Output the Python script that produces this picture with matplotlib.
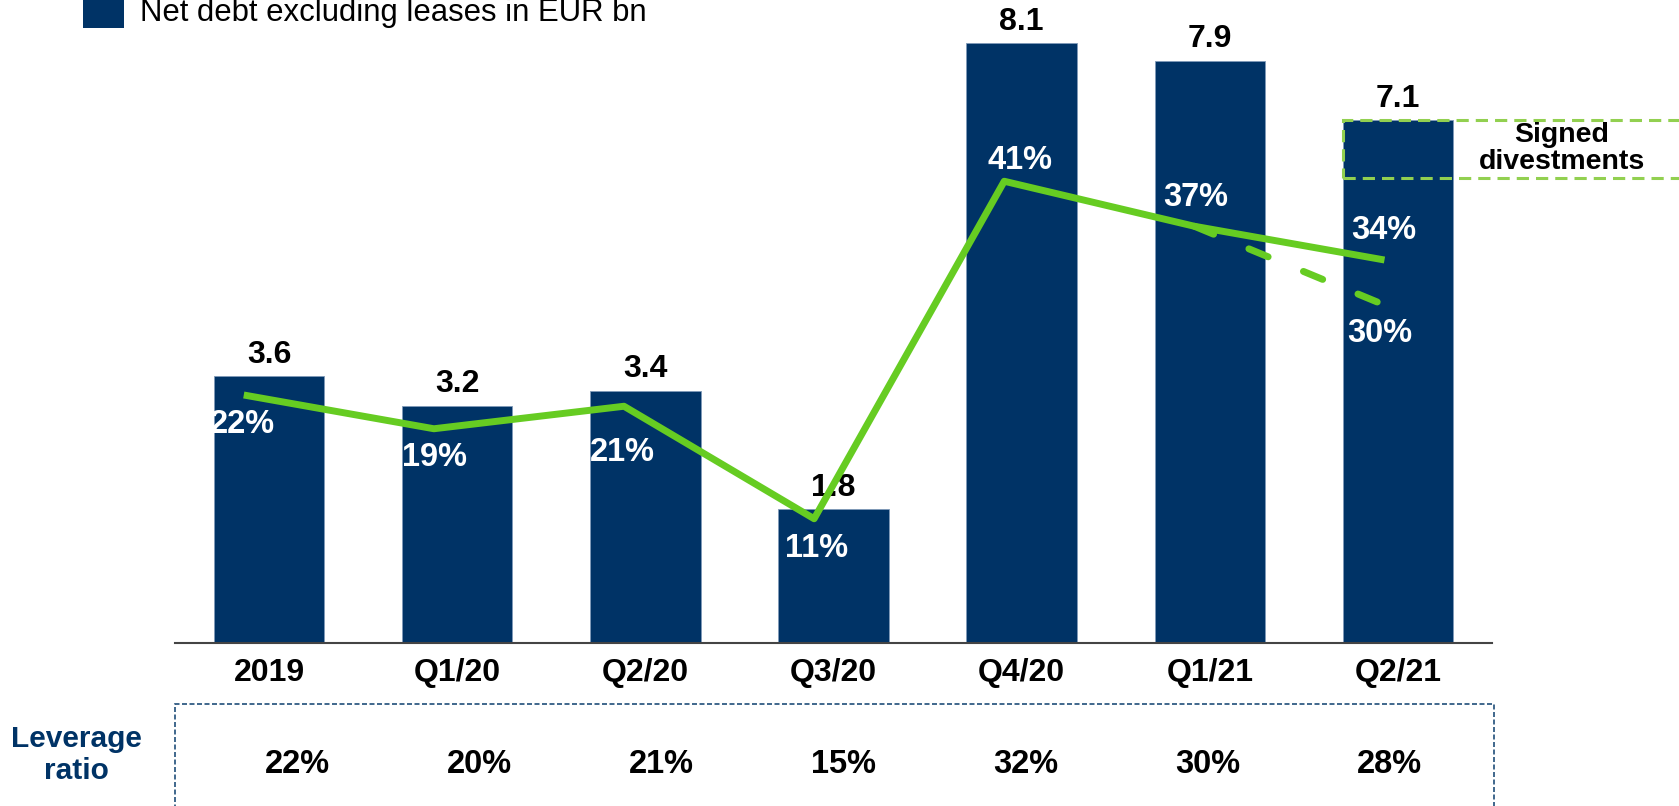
import matplotlib
matplotlib.use("Agg")
import matplotlib.pyplot as plt
import numpy as np
from matplotlib.patches import Rectangle

# data
categories = ["2019", "Q1/20", "Q2/20", "Q3/20", "Q4/20", "Q1/21", "Q2/21"]
net_debt = [3.6, 3.2, 3.4, 1.8, 8.1, 7.86, 7.06]   # EUR bn
debt_ratio = [22, 19, 21, 11, 41, 37, 34]           # % (green line)
ratio_after_divestments = 30                        # % (dashed end)
signed_divestments = 0.78                           # EUR bn
leverage_ratio = [22, 20, 21, 15, 32, 30, 28]       # %

NAVY = "#003366"
GREEN = "#66CC22"
LIGHT_GREEN = "#92D050"

W, H = 1679, 806


def fx(px):
    return px / W


def fy(py):
    return 1 - py / H


plt.rcParams["font.family"] = ["Liberation Sans", "DejaVu Sans"]

fig = plt.figure(figsize=(W / 100, H / 100), dpi=100)
ax = fig.add_axes([fx(175), fy(642.5), fx(1492) - fx(175), 642.5 / H])

x = np.arange(len(categories))
ax.bar(x, net_debt, width=0.587, color=NAVY, edgecolor="#7f9ab8", linewidth=0.6, zorder=2)
ax.set_xlim(-0.5, 6.5)
ax.set_ylim(0, 642.5 / 74.0)
for s in ax.spines.values():
    s.set_visible(False)
ax.axhline(0, color="#444444", linewidth=1.5, zorder=3, clip_on=False)
ax.set_yticks([])
ax.set_xticks(x, categories, fontsize=23, fontweight="bold")
ax.tick_params(axis="x", length=0, pad=11)

for xi, v in zip(x, net_debt):
    ax.annotate(f"{v:.1f}", (xi, v), xytext=(0, 15.5), textcoords="offset points",
                ha="center", va="center", fontsize=23, fontweight="bold", zorder=4)

# signed divestments box on top of the last bar
top = net_debt[-1]
ax.add_patch(Rectangle((x[-1] - 0.2935, top - signed_divestments), 2.0, signed_divestments,
                       fill=False, edgecolor=LIGHT_GREEN, linewidth=2.2,
                       linestyle=(0, (4, 2.3)), clip_on=False, zorder=3))
ax.text(6.87, top - signed_divestments / 2, "Signed\ndivestments", ha="center", va="center",
        fontsize=20.5, fontweight="bold", multialignment="center", linespacing=1.05, zorder=4)

# leverage line on its own scale
ax2 = ax.twinx()
ax2.set_ylim(0, 642.5 / 11.25)
ax2.axis("off")
line_x = -0.1345 + 1.0105 * x
ax2.plot(line_x, debt_ratio, color=GREEN, linewidth=5,
         solid_capstyle="butt", solid_joinstyle="round", zorder=5)
ax2.plot([line_x[-2], line_x[-1]], [debt_ratio[-2], ratio_after_divestments], color=GREEN,
         linewidth=5, linestyle=(0, (3.0, 5.5)), dash_capstyle="round", zorder=5)

label_offsets = [(-0.7, -20.9), (0.7, -20.9), (-1.4, -33.1), (1.4, -21.6),
                 (11.5, 15.1), (0.7, 20.9), (-0.7, 20.9)]
for lx, v, off in zip(line_x, debt_ratio, label_offsets):
    ax2.annotate(f"{v}%", (lx, v), xytext=off, textcoords="offset points", ha="center",
                 va="center", fontsize=23.5, fontweight="bold", color="white", zorder=6)
ax2.annotate(f"{ratio_after_divestments}%", (line_x[-1], ratio_after_divestments),
             xytext=(-3.6, -20.2), textcoords="offset points", ha="center", va="center",
             fontsize=23.5, fontweight="bold", color="white", zorder=6)

# legend at the top, partly cut off like the slide crop
fig.patches.append(Rectangle((fx(83), fy(28)), fx(41), 41 / H, transform=fig.transFigure,
                             facecolor=NAVY, edgecolor="none"))
fig.text(fx(140), fy(21), "Net debt excluding leases in EUR bn", ha="left", va="baseline",
         fontsize=22.4)

# leverage ratio row
fig.patches.append(Rectangle((fx(174.5), fy(860)), fx(1494) - fx(174.5), (860 - 704) / H,
                             transform=fig.transFigure, fill=False, edgecolor="#1F4E79",
                             linewidth=1.2, linestyle=(0, (3, 1.5))))
fig.text(fx(76), fy(755), "Leverage\nratio", ha="center", va="center", fontsize=21.5,
         fontweight="bold", color=NAVY, multialignment="center")
for i, v in enumerate(leverage_ratio):
    fig.text(fx(297.7 + 182.0 * i), fy(764.5), f"{v}%", ha="center", va="center",
             fontsize=23.5, fontweight="bold")

fig.savefig("out.png", dpi=100)
